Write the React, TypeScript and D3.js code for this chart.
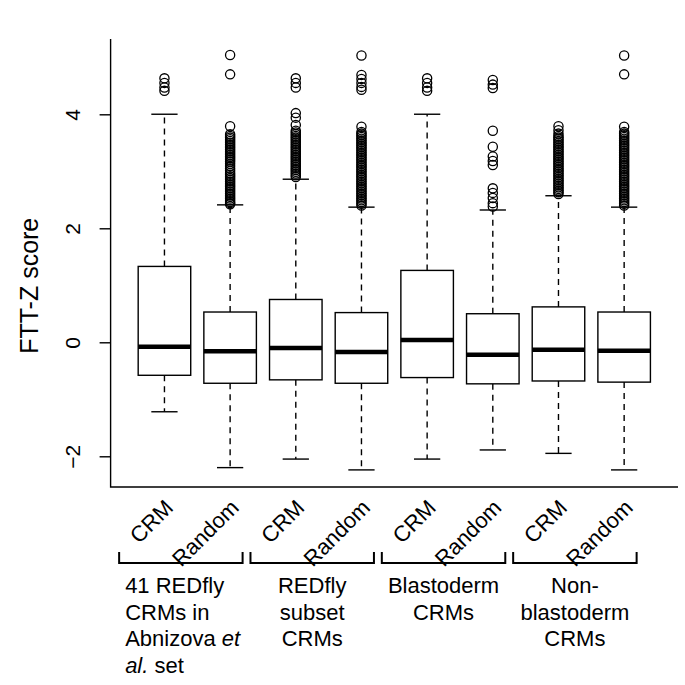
import React from 'react';
import * as d3 from 'd3';

// box stats (FTT-Z score)
const boxLabels = ['CRM', 'Random', 'CRM', 'Random', 'CRM', 'Random', 'CRM', 'Random'];
const whiskerLow = [-1.21, -2.19, -2.04, -2.23, -2.04, -1.88, -1.94, -2.23];
const quart1 = [-0.57, -0.71, -0.65, -0.71, -0.61, -0.72, -0.67, -0.69];
const medians = [-0.07, -0.15, -0.09, -0.16, 0.05, -0.21, -0.12, -0.14];
const quart3 = [1.34, 0.54, 0.76, 0.53, 1.27, 0.51, 0.63, 0.54];
const whiskerHigh = [4.01, 2.42, 2.87, 2.38, 4.01, 2.33, 2.58, 2.38];

const outliers: number[][] = [
  [4.64, 4.56, 4.48, 4.42],
  [5.05, 4.71, 3.80, 3.66, 3.63, 3.60, 3.57, 3.54, 3.51, 3.48, 3.45, 3.42, 3.39, 3.36, 3.33, 3.30,
    3.27, 3.24, 3.21, 3.18, 3.14, 3.10, 3.06, 3.02, 2.98, 2.95, 2.92, 2.89, 2.86, 2.83, 2.80, 2.77,
    2.74, 2.71, 2.68, 2.65, 2.62, 2.59, 2.56, 2.53, 2.50, 2.47, 2.45, 2.43],
  [4.64, 4.56, 4.48, 4.03, 3.95, 3.82, 3.72, 3.69, 3.66, 3.63, 3.60, 3.57, 3.54, 3.51, 3.48, 3.45,
    3.42, 3.39, 3.36, 3.33, 3.30, 3.27, 3.24, 3.21, 3.18, 3.15, 3.12, 3.09, 3.06, 3.03, 3.00, 2.97,
    2.94, 2.91],
  [5.04, 4.70, 4.63, 4.56, 4.49, 4.44, 3.79, 3.70, 3.67, 3.64, 3.61, 3.58, 3.55, 3.52, 3.49, 3.46,
    3.43, 3.40, 3.37, 3.34, 3.31, 3.28, 3.25, 3.22, 3.19, 3.16, 3.13, 3.10, 3.07, 3.04, 3.01, 2.98,
    2.95, 2.92, 2.89, 2.86, 2.83, 2.80, 2.77, 2.74, 2.71, 2.68, 2.65, 2.62, 2.59, 2.56, 2.53, 2.50,
    2.47, 2.44, 2.41],
  [4.64, 4.56, 4.48, 4.42],
  [4.61, 4.53, 4.47, 3.72, 3.44, 3.27, 3.19, 3.12, 2.71, 2.63, 2.54, 2.45, 2.39],
  [3.80, 3.73, 3.67, 3.63, 3.60, 3.57, 3.54, 3.51, 3.48, 3.45, 3.42, 3.39, 3.36, 3.33, 3.30, 3.27,
    3.24, 3.21, 3.18, 3.15, 3.12, 3.09, 3.06, 3.03, 3.00, 2.97, 2.94, 2.91, 2.88, 2.85, 2.82, 2.79,
    2.76, 2.73, 2.70, 2.67, 2.64, 2.61],
  [5.04, 4.71, 3.79, 3.70, 3.67, 3.64, 3.61, 3.58, 3.55, 3.52, 3.49, 3.46, 3.43, 3.40, 3.37, 3.34,
    3.31, 3.28, 3.25, 3.22, 3.19, 3.16, 3.13, 3.10, 3.07, 3.04, 3.01, 2.98, 2.95, 2.92, 2.89, 2.86,
    2.83, 2.80, 2.77, 2.74, 2.71, 2.68, 2.65, 2.62, 2.59, 2.56, 2.53, 2.50, 2.47, 2.44, 2.41],
];

const yTicks = [-2, 0, 2, 4];

type Seg = { t: string; i?: boolean };
const groupLines: Seg[][][] = [
  [[{ t: '41 REDfly' }], [{ t: 'CRMs in' }], [{ t: 'Abnizova ' }, { t: 'et', i: true }], [{ t: 'al.', i: true }, { t: ' set' }]],
  [[{ t: 'REDfly' }], [{ t: 'subset' }], [{ t: 'CRMs' }]],
  [[{ t: 'Blastoderm' }], [{ t: 'CRMs' }]],
  [[{ t: 'Non-' }], [{ t: 'blastoderm' }], [{ t: 'CRMs' }]],
];
const groupAlign = ['start', 'middle', 'middle', 'middle'];

const FONT = '"Liberation Sans", Arial, Helvetica, sans-serif';

export default function App() {
  const W = 685;
  const H = 685;
  const x = d3.scaleLinear().domain([0.18, 8.82]).range([110.6, 678]);
  const y = d3.scaleLinear().domain([-2.53, 5.33]).range([487, 39]);
  const unit = x(2) - x(1);
  const bw = unit * 0.8;
  const capW = bw / 2;

  return (
    <>
      <style>{'body{margin:0;background:#fff}'}</style>
      <svg width={W} height={H} style={{ display: 'block', background: '#fff' }} fontFamily={FONT}>
        {/* frame: left and bottom */}
        <path d={`M${x.range()[0]},${y.range()[1]}V${y.range()[0]}H${x.range()[1]}`} fill="none" stroke="#000" strokeWidth={1.4} />

        {yTicks.map((t) => (
          <g key={t}>
            <line x1={x.range()[0] - 11} x2={x.range()[0]} y1={y(t)} y2={y(t)} stroke="#000" strokeWidth={1.4} />
            <text
              transform={`translate(${x.range()[0] - 38},${y(t)}) rotate(-90)`}
              textAnchor="middle"
              fontSize={21}
              dy="0.36em"
            >
              {t < 0 ? `\u2212${Math.abs(t)}` : t}
            </text>
          </g>
        ))}

        <text transform={`translate(38,${y(1)}) rotate(-90)`} textAnchor="middle" fontSize={25}>
          FTT-Z score
        </text>

        {boxLabels.map((lab, i) => {
          const cx = x(i + 1);
          return (
            <g key={i}>
              <line x1={cx} x2={cx} y1={y(quart3[i])} y2={y(whiskerHigh[i])} stroke="#000" strokeWidth={1.4} strokeDasharray="6,5" />
              <line x1={cx} x2={cx} y1={y(quart1[i])} y2={y(whiskerLow[i])} stroke="#000" strokeWidth={1.4} strokeDasharray="6,5" />
              <line x1={cx - capW / 2} x2={cx + capW / 2} y1={y(whiskerHigh[i])} y2={y(whiskerHigh[i])} stroke="#000" strokeWidth={1.4} />
              <line x1={cx - capW / 2} x2={cx + capW / 2} y1={y(whiskerLow[i])} y2={y(whiskerLow[i])} stroke="#000" strokeWidth={1.4} />
              <rect x={cx - bw / 2} y={y(quart3[i])} width={bw} height={y(quart1[i]) - y(quart3[i])} fill="#fff" stroke="#000" strokeWidth={1.4} />
              <line x1={cx - bw / 2} x2={cx + bw / 2} y1={y(medians[i])} y2={y(medians[i])} stroke="#000" strokeWidth={4.5} />
              {outliers[i].map((v, k) => (
                <circle key={k} cx={cx} cy={y(v)} r={4.6} fill="none" stroke="#000" strokeWidth={1.3} />
              ))}
              <text transform={`translate(${cx + 10},${509}) rotate(-45)`} textAnchor="end" fontSize={22}>
                {lab}
              </text>
            </g>
          );
        })}

        {groupLines.map((lines, g) => {
          const x0 = x(2 * g + 1) - unit * 0.69;
          const x1 = x(2 * g + 2) + unit * 0.19;
          const align = groupAlign[g];
          const tx = align === 'start' ? x0 + 6 : (x0 + x1) / 2;
          return (
            <g key={g}>
              <path d={`M${x0},552V563H${x1}V552`} fill="none" stroke="#000" strokeWidth={2} />
              {lines.map((segs, li) => (
                <text key={li} x={tx} y={593 + li * 26.7} textAnchor={align} fontSize={22}>
                  {segs.map((s, si) => (
                    <tspan key={si} fontStyle={s.i ? 'italic' : 'normal'}>{s.t}</tspan>
                  ))}
                </text>
              ))}
            </g>
          );
        })}
      </svg>
    </>
  );
}
